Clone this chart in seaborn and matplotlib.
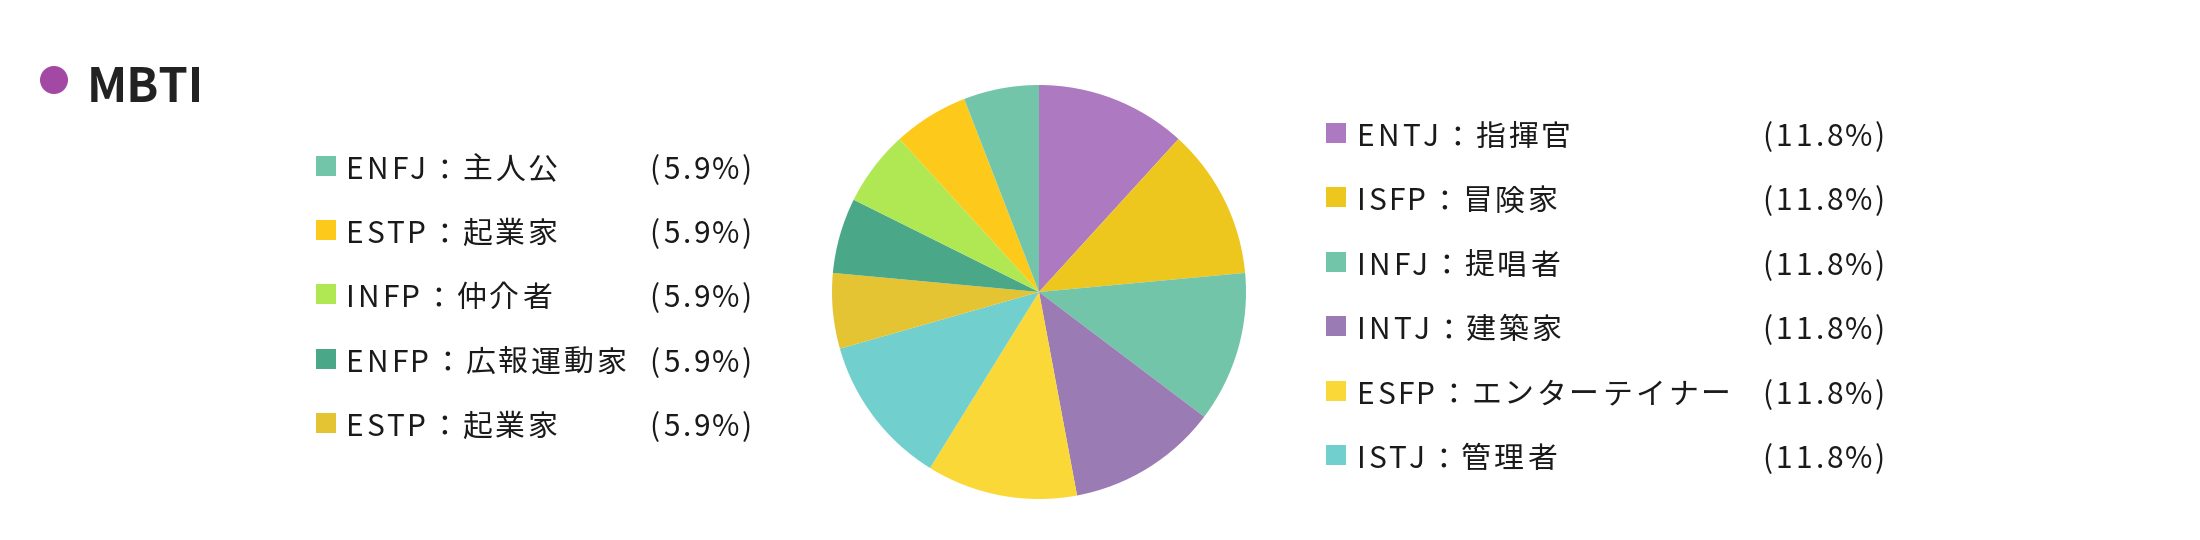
import matplotlib
matplotlib.use("Agg")
import matplotlib.pyplot as plt
import seaborn as sns
from matplotlib import font_manager, ft2font
from matplotlib.patches import Rectangle, Ellipse

sns.set_theme(style="white")
plt.rcParams['font.family'] = ['Noto Sans CJK JP', 'DejaVu Sans']

# Data (clockwise from 12 o'clock)
types = ['ENTJ', 'ISFP', 'INFJ', 'INTJ', 'ESFP', 'ISTJ',
         'ESTP', 'ENFP', 'INFP', 'ESTP', 'ENFJ']
names = ['指揮官', '冒険家', '提唱者', '建築家', 'エンターテイナー', '管理者',
         '起業家', '広報運動家', '仲介者', '起業家', '主人公']
shares = [11.8, 11.8, 11.8, 11.8, 11.8, 11.8, 5.9, 5.9, 5.9, 5.9, 5.9]
colors = ['#AD79C1', '#EDC71E', '#72C5A8', '#9A7BB3', '#F9D838', '#71CFCD',
          '#E4C432', '#4AA888', '#B0E854', '#FDCA1C', '#73C5A9']
palette = sns.color_palette(colors)

W, H = 2200, 540
DPI = 100
fig = plt.figure(figsize=(W / DPI, H / DPI), dpi=DPI)
fig.patch.set_facecolor('white')

# Pie
cx, cy, r = 1039, 292, 207
ax = fig.add_axes([(cx - r) / W, (H - cy - r) / H, 2 * r / W, 2 * r / H])
ax.pie(shares, colors=palette, startangle=90, counterclock=False,
       wedgeprops=dict(linewidth=0))
ax.set_xlim(-1, 1)
ax.set_ylim(-1, 1)
ax.set_aspect('equal')
ax.axis('off')

# Title
fig.patches.append(Ellipse((54 / W, 1 - 80 / H), 28 / W, 28 / H,
                           transform=fig.transFigure,
                           facecolor='#A349A4', edgecolor='none'))
fig.text(87 / W, 1 - 102 / H, 'MBTI', fontsize=34, fontweight='bold',
         color='#222222', va='baseline', ha='left')

text_color = '#1a1a1a'
fs = 21.5
track = 2.8  # letter spacing in px

# glyph advances for letter-spaced legend text
_font = ft2font.FT2Font(font_manager.findfont(
    font_manager.FontProperties(family='Noto Sans CJK JP')), hinting_factor=1)
_font.set_size(fs, DPI)


def advance(ch):
    return _font.load_char(ord(ch)).horiAdvance / 64


def spaced_text(x, y_base, s):
    for ch in s:
        fig.text(x / W, 1 - y_base / H, ch, fontsize=fs, color=text_color,
                 va='baseline', ha='left')
        x += advance(ch) + track


def legend_row(i, x_sq, y, x_txt, x_pct, sq=20):
    fig.patches.append(Rectangle((x_sq / W, 1 - (y + sq / 2) / H), sq / W, sq / H,
                                 transform=fig.transFigure,
                                 facecolor=palette[i], edgecolor='none'))
    spaced_text(x_txt, y + 13, f'{types[i]}：{names[i]}')
    spaced_text(x_pct, y + 13, f'({shares[i]:.1f}%)')


# Right legend: first six slices
for k, i in enumerate(range(6)):
    legend_row(i, 1326, 133 + k * 64.4, 1357, 1762)

# Left legend: remaining slices, reversed
for k, i in enumerate(range(10, 5, -1)):
    legend_row(i, 316, 166 + k * 64.2, 346, 649)

fig.savefig('out.png', dpi=DPI, facecolor='white')
